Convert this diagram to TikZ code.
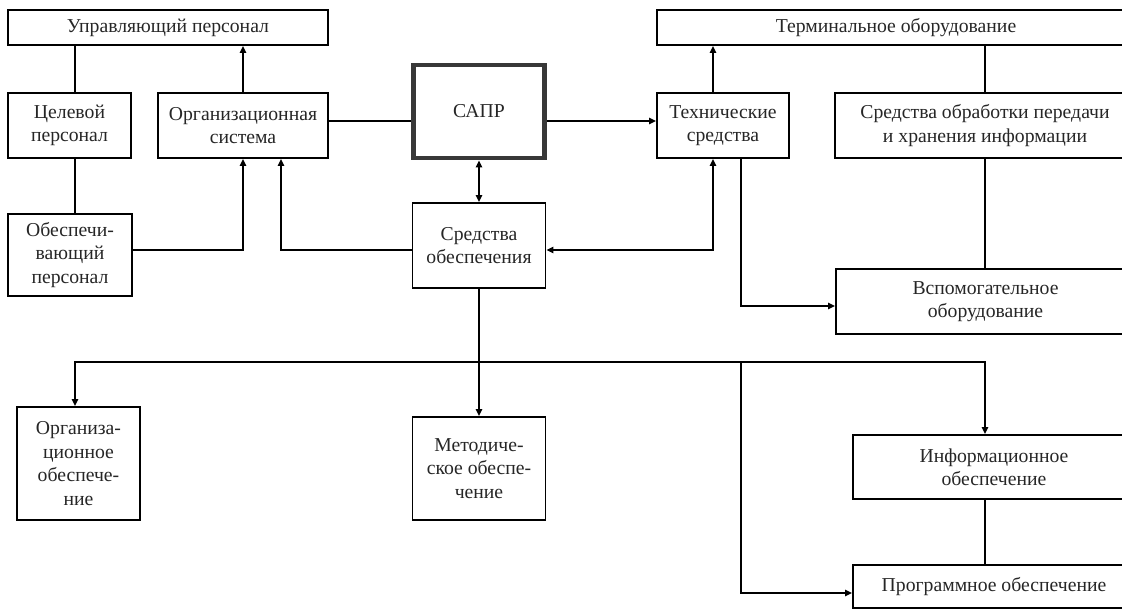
\documentclass[tikz,border=0pt]{standalone}
\usepackage{fontspec}
\setmainfont{Liberation Serif}
\usetikzlibrary{arrows.meta}
\tikzset{
  box/.style={draw=black, line width=1.3pt, inner sep=0pt, align=center,
    font=\fontsize{14}{16.7}\selectfont, text=black!85},
  sbox/.style={box, draw=black!78, line width=3.4pt},
  sz/.style 2 args={minimum width=#1*0.025cm, minimum height=#2*0.025cm},
  conn/.style={line width=1.3pt, draw=black},
  arr/.style={conn, -{Triangle[length=5pt,width=4.5pt]}},
  arrb/.style={conn, {Triangle[length=5pt,width=4.5pt]}-{Triangle[length=5pt,width=4.5pt]}},
}
\begin{document}
\begin{tikzpicture}[x=0.025cm, y=-0.025cm]
\useasboundingbox (0,0) rectangle (1122,612);
\clip (0,0) rectangle (1122,612);
% boxes
\node[box, sz={320}{35}] (up) at (168,27.5) {Управляющий персонал};
\node[box, sz={123}{65}] (tsel) at (69.5,125.5) {Целевой\\персонал};
\node[box, sz={170}{65}] (orgsys) at (243,125.5) {Организационная\\система};
\node[sbox, sz={131}{93}] (sapr) at (479,111.5) {САПР};
\node[box, sz={132}{65}] (tech) at (723,125.5) {Технические\\средства};
\node[box, sz={478}{35}] (term) at (896,27.5) {Терминальное оборудование};
\node[box, sz={300}{65}] (sredobr) at (985,125.5) {Средства обработки передачи\\и хранения информации};
\node[box, sz={124}{82}] (obesp) at (70,255) {Обеспечи-\\вающий\\персонал};
\node[box, sz={133}{85}] (sredobesp) at (479,245.5) {Средства\\обеспечения};
\node[box, sz={299}{65}] (vspom) at (985.5,301.5) {Вспомогательное\\оборудование};
\node[box, sz={123}{113}] (orgob) at (78.5,463.5) {Организа-\\ционное\\обеспече-\\ние};
\node[box, sz={133}{103}] (metod) at (479,468.5) {Методиче-\\ское обеспе-\\чение};
\node[box, sz={282}{64}] (inform) at (994,467) {Информационное\\обеспечение};
\node[box, sz={282}{43}] (progr) at (994,586.5) {Программное обеспечение};
% helper coordinates
\coordinate (x75) at (75,0);
\coordinate (x243) at (243,0);
\coordinate (x281) at (281,0);
\coordinate (x713) at (713,0);
\coordinate (x741) at (741,0);
\coordinate (x985) at (985,0);
\coordinate (y121) at (0,121);
\coordinate (y250) at (0,250);
\coordinate (y306) at (0,306);
\coordinate (y593) at (0,593);
\coordinate (bL) at (75,362);
\coordinate (bM) at (741,362);
\coordinate (bR) at (985,362);
% connectors
\draw[conn] (up.south -| x75) -- (tsel.north -| x75);
\draw[conn] (tsel.south -| x75) -- (obesp.north -| x75);
\draw[arr] (orgsys.north -| x243) -- (up.south -| x243);
\draw[arr] (obesp.east |- y250) -| (orgsys.south -| x243);
\draw[arr] (sredobesp.west |- y250) -| (orgsys.south -| x281);
\draw[conn] (orgsys.east |- y121) -- (sapr.west |- y121);
\draw[arr] (sapr.east |- y121) -- (tech.west |- y121);
\draw[arrb] (sapr.south) -- (sredobesp.north);
\draw[arr] (tech.north -| x713) -- (term.south -| x713);
\draw[conn] (term.south -| x985) -- (sredobr.north -| x985);
\draw[conn] (sredobr.south -| x985) -- (vspom.north -| x985);
\draw[arrb] (sredobesp.east |- y250) -| (tech.south -| x713);
\draw[arr] (tech.south -| x741) |- (vspom.west |- y306);
\draw[arr] (sredobesp.south) -- (metod.north);
\draw[arr] (bR) -| (orgob.north -| bL);
\draw[arr] (bL) -| (inform.north -| bR);
\draw[arr] (bM) |- (progr.west |- y593);
\draw[conn] (inform.south -| x985) -- (progr.north -| x985);
\end{tikzpicture}
\end{document}
